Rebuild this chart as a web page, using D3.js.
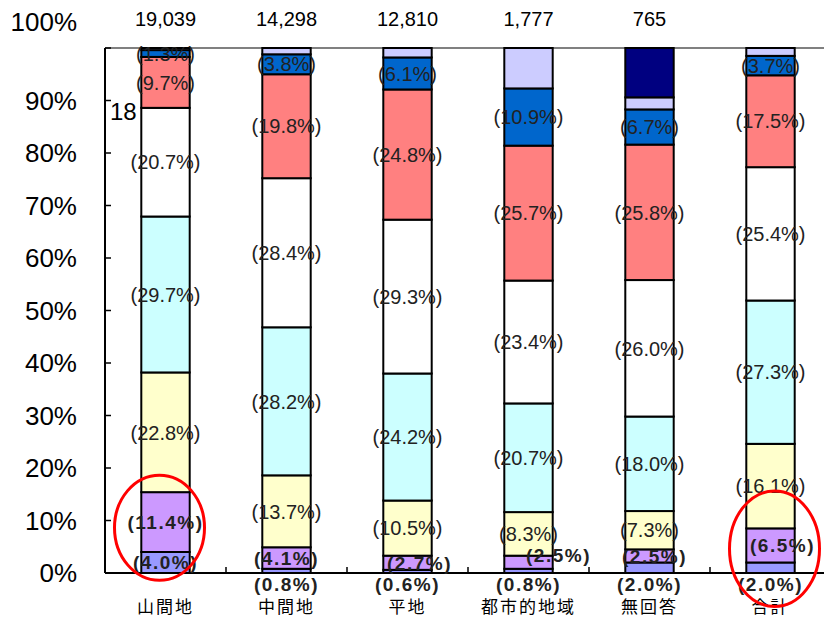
<!DOCTYPE html>
<html>
<head>
<meta charset="utf-8">
<script src="https://cdn.jsdelivr.net/npm/d3@7/dist/d3.min.js"></script>
<style>
  html, body { margin: 0; padding: 0; background: #fff; }
  svg { display: block; }
</style>
</head>
<body>
<svg id="chart" width="824" height="617"></svg>
<script>
// 地域区分
const categories = ["山間地", "中間地", "平地", "都市的地域", "無回答", "合計"];
// 回答数
const totals = ["19,039", "14,298", "12,810", "1,777", "765", ""];
// 構成比(%)、下から順に
const s1 = [4.0, 0.8, 0.6, 0.8, 2.0, 2.0];
const s2 = [11.4, 4.1, 2.7, 2.5, 2.5, 6.5];
const s3 = [22.8, 13.7, 10.5, 8.3, 7.3, 16.1];
const s4 = [29.7, 28.2, 24.2, 20.7, 18.0, 27.3];
const s5 = [20.7, 28.4, 29.3, 23.4, 26.0, 25.4];
const s6 = [9.7, 19.8, 24.8, 25.7, 25.8, 17.5];
const s7 = [1.3, 3.8, 6.1, 10.9, 6.7, 3.7];
const s8 = [0.4, 1.2, 1.8, 7.7, 2.3, 1.5];
const s9 = [0, 0, 0, 0, 9.4, 0];
const yTicks = [0, 10, 20, 30, 40, 50, 60, 70, 80, 90, 100];

const seriesList = [s1, s2, s3, s4, s5, s6, s7, s8, s9];
const keys = seriesList.map((_, i) => "s" + (i + 1));
const colors = ["#9999ff", "#cc99ff", "#ffffcc", "#ccffff", "#ffffff", "#ff8080", "#0066cc", "#ccccff", "#000080"];
const labelled = [true, true, true, true, true, true, true, false, false];
const boldSeries = [true, true, false, false, false, false, false, false, false];

const rows = categories.map((c, j) => {
  const r = { cat: c };
  keys.forEach((k, i) => { r[k] = seriesList[i][j]; });
  return r;
});

const svg = d3.select("#chart");
const plotL = 105, plotR = 831, plotT = 48, plotB = 573;

const x = d3.scaleBand().domain(categories).range([plotL, plotR]).paddingInner(0.6).paddingOuter(0.3);
const step = x.step();
const y = d3.scaleLinear().domain([0, 100]).range([plotB, plotT]);

const stacked = d3.stack().keys(keys)(rows);

// frame top line
svg.append("line")
  .attr("x1", plotL).attr("x2", 824).attr("y1", plotT).attr("y2", plotT)
  .attr("stroke", "#808080").attr("stroke-width", 2);

// bars
const layers = svg.append("g").selectAll("g").data(stacked).join("g")
  .attr("fill", (d, i) => colors[i]);
layers.selectAll("rect").data(d => d.filter(p => p[1] - p[0] > 0)).join("rect")
  .attr("x", d => x(d.data.cat))
  .attr("width", x.bandwidth())
  .attr("y", d => y(d[1]))
  .attr("height", d => y(d[0]) - y(d[1]))
  .attr("stroke", "#000").attr("stroke-width", 2);

// axes
svg.append("line").attr("x1", plotL).attr("x2", plotL).attr("y1", plotT).attr("y2", plotB)
  .attr("stroke", "#000").attr("stroke-width", 2);
svg.append("line").attr("x1", plotL).attr("x2", 824).attr("y1", plotB).attr("y2", plotB)
  .attr("stroke", "#000").attr("stroke-width", 2);
svg.append("g").selectAll("line").data(yTicks).join("line")
  .attr("x1", plotL).attr("x2", plotL + 6)
  .attr("y1", d => y(d)).attr("y2", d => y(d))
  .attr("stroke", "#000").attr("stroke-width", 1.5);
svg.append("g").selectAll("line").data(categories.slice(1)).join("line")
  .attr("x1", d => x(d) - (step - x.bandwidth()) / 2).attr("x2", d => x(d) - (step - x.bandwidth()) / 2)
  .attr("y1", plotB).attr("y2", plotB - 6)
  .attr("stroke", "#000").attr("stroke-width", 1.5);

// y tick labels
svg.append("g").selectAll("text").data(yTicks).join("text")
  .attr("x", 77)
  .attr("y", d => d === 100 ? 22 : y(d))
  .attr("dy", "0.36em")
  .attr("text-anchor", "end")
  .attr("font-family", "Liberation Sans, Arial, sans-serif")
  .attr("font-size", 26)
  .attr("fill", "#000")
  .text(d => d + "%");

// totals above bars
svg.append("g").selectAll("text").data(categories).join("text")
  .attr("x", d => x(d) + x.bandwidth() / 2)
  .attr("y", 26)
  .attr("text-anchor", "middle")
  .attr("font-family", "Liberation Sans, Arial, sans-serif")
  .attr("font-size", 20)
  .attr("fill", "#000")
  .text((d, i) => totals[i]);

// category labels
svg.append("g").selectAll("text").data(categories).join("text")
  .attr("x", d => x(d) + x.bandwidth() / 2)
  .attr("y", 607)
  .attr("dy", "0.36em")
  .attr("text-anchor", "middle")
  .attr("font-family", "Noto Sans CJK JP, sans-serif")
  .attr("font-size", 17)
  .attr("letter-spacing", 2)
  .attr("fill", "#000")
  .text(d => d);

// segment value labels
const shift = { "s2|平地": [12, 0], "s2|都市的地域": [30, -7], "s2|合計": [12, 0], "s2|無回答": [5, 0] };
const labelData = [];
stacked.forEach((layer, i) => {
  if (!labelled[i]) return;
  layer.forEach(p => {
    const v = p[1] - p[0];
    const cat = p.data.cat;
    const off = shift[keys[i] + "|" + cat] || [0, 0];
    let ly = (y(p[0]) + y(p[1])) / 2;
    if (i === 0 && v < 3) ly = plotB + 11;
    labelData.push({
      x: x(cat) + x.bandwidth() / 2 + off[0],
      y: ly + off[1],
      bold: boldSeries[i],
      text: "(" + v.toFixed(1) + "%)"
    });
  });
});
svg.append("g").selectAll("text").data(labelData).join("text")
  .attr("x", d => d.x)
  .attr("y", d => d.y)
  .attr("dy", "0.36em")
  .attr("text-anchor", "middle")
  .attr("font-family", "Liberation Sans, Arial, sans-serif")
  .attr("font-size", d => d.bold ? 19 : 20)
  .attr("font-weight", d => d.bold ? "bold" : "normal")
  .attr("letter-spacing", d => d.bold ? 1.5 : 0)
  .attr("fill", "#222")
  .text(d => d.text);

// stray value beside the first bar
svg.append("text")
  .attr("x", 110).attr("y", 111).attr("dy", "0.36em")
  .attr("font-family", "Liberation Sans, Arial, sans-serif")
  .attr("font-size", 24).attr("fill", "#000")
  .text("18");

// highlight ellipses
const marks = [
  { cat: "山間地", lo: -1, hi: 19 },
  { cat: "合計", lo: -6, hi: 16 }
];
svg.append("g").selectAll("ellipse").data(marks).join("ellipse")
  .attr("cx", (d, i) => x(d.cat) + x.bandwidth() / 2 + (i === 0 ? -6 : 4))
  .attr("cy", d => (y(d.lo) + y(d.hi)) / 2 + 2)
  .attr("rx", 45)
  .attr("ry", d => (y(d.lo) - y(d.hi)) / 2)
  .attr("fill", "none")
  .attr("stroke", "#ff0000").attr("stroke-width", 3);
</script>
</body>
</html>
